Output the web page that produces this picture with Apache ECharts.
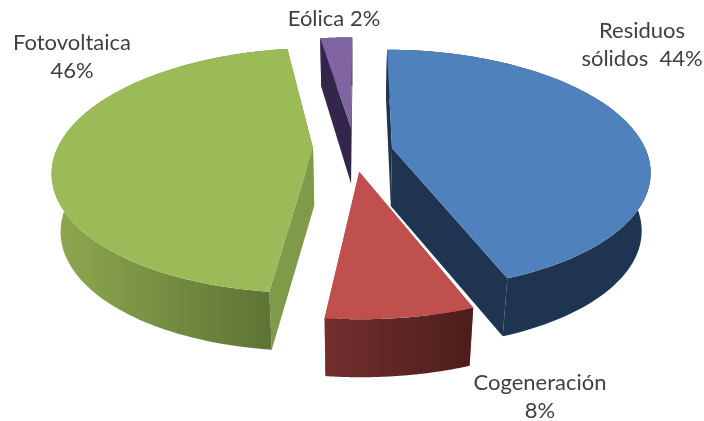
<!DOCTYPE html>
<html><head><meta charset="utf-8">
<style>html,body{margin:0;padding:0;background:#fff}#c{width:704px;height:421px}</style>
<script src="https://cdn.jsdelivr.net/npm/echarts@6/dist/echarts.min.js"></script>
</head><body><div id="c"></div>
<script>
// Data
const categories = ['Residuos sólidos', 'Cogeneración', 'Fotovoltaica', 'Eólica'];
const shares = [44, 7.5, 45.7, 2.4];
const labelTexts = ['Residuos\nsólidos  44%', 'Cogeneración\n8%', 'Fotovoltaica\n46%', 'Eólica 2%'];

// Layout / style
const labelX = [642, 540, 72, 334];
const labelY = [45, 397, 57, 19];
const explodeX = [40, 7, -39, -1];
const explodeY = [0, 23, 0, -21];
const radiusScaleX = [0.99, 1, 1, 1];
const radiusScaleY = [0.98, 0.95, 1, 0.95];
const topColors = ['#4f81bd', '#c0504d', '#9bbb59', '#8064a2'];
const cutColors = ['#1f3450', '#c0504d', '#7f9a48', '#33264a'];
const wallStops = [
  ['#1f3450', '#1f3450'],
  ['#722f2e', '#4e1e1c'],
  ['#8ca74f', '#5a6f32'],
  ['#33264a', '#33264a']
];
const PIE = {cx: 352, cy: 148, rx: 255.6, ry: 118.3, k: 0.183, depth: 58, start: 0.3, bottomScale: 0.97};

function project(u, v, down) {
  const s = 1 / (1 + PIE.k * v);
  const x = PIE.rx * u * s * (down ? PIE.bottomScale : 1);
  return [PIE.cx + x, PIE.cy - PIE.ry * v * s + (down ? PIE.depth * Math.min(1, s) : 0)];
}
const total = shares.reduce((a, b) => a + b, 0);

function renderItem(params, api) {
  const i = params.dataIndex;
  let before = 0;
  for (let j = 0; j < i; j++) before += shares[j];
  const a0 = (PIE.start + before / total * 360) * Math.PI / 180;
  const a1 = a0 + api.value(0) / total * 2 * Math.PI;
  const ox = explodeX[i] / PIE.rx, oy = -explodeY[i] / PIE.ry;
  const arc = [];
  const n = 120;
  for (let t = 0; t <= n; t++) {
    const a = a0 + (a1 - a0) * t / n;
    arc.push([ox + radiusScaleX[i] * Math.sin(a), oy + radiusScaleY[i] * Math.cos(a)]);
  }
  const top = arc.map(p => project(p[0], p[1], false));
  const bot = arc.map(p => project(p[0], p[1], true));
  const apexT = project(ox, oy, false), apexB = project(ox, oy, true);
  const poly = (points, fill, z2) => ({type: 'polygon', z2, shape: {points}, style: {fill}, silent: true});
  const xs = bot.map(p => p[0]);
  const wallFill = {
    type: 'linear', x: Math.min(...xs), y: 0, x2: Math.max(...xs), y2: 0, global: true,
    colorStops: [{offset: 0, color: wallStops[i][0]}, {offset: 1, color: wallStops[i][1]}]
  };
  return {
    type: 'group',
    children: [
      poly([apexT, top[0], bot[0], apexB], cutColors[i], 1),
      poly([apexT, top[n], bot[n], apexB], cutColors[i], 1),
      poly(top.concat(bot.slice().reverse()), wallFill, 2),
      poly([apexT].concat(top), topColors[i], 3)
    ]
  };
}

const chart = echarts.init(document.getElementById('c'), null, {renderer: 'canvas'});
chart.setOption({
  animation: false,
  backgroundColor: '#fff',
  series: [{
    type: 'custom',
    coordinateSystem: 'none',
    renderItem,
    data: categories.map((name, i) => ({name, value: [shares[i]]}))
  }],
  graphic: labelTexts.map((t, i) => ({
    type: 'text', x: labelX[i], y: labelY[i], z: 10,
    style: {text: t, font: '22px Lato', fill: '#404040', align: 'center', verticalAlign: 'middle', lineHeight: 28}
  }))
});
</script></body></html>
